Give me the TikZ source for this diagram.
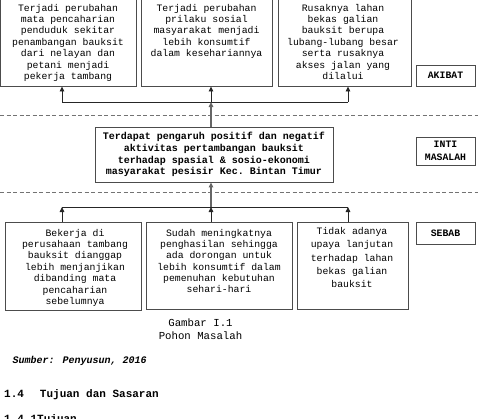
\documentclass[tikz,border=0pt]{standalone}
\usepackage{fontspec}
\setmainfont{Liberation Mono}
\usetikzlibrary{arrows.meta,fit}
\begin{document}
\begin{tikzpicture}[x=1pt,y=-1pt,
  box/.style={draw=black!70, line width=0.9pt, inner sep=0pt},
  txt/.style={align=center, inner sep=0pt, font=\fontsize{9.8}{#1}\selectfont,
    execute at begin node=\strut, execute at end node=\strut},
  txt/.default=11.4,
  boldtxt/.style={align=center, inner sep=0pt, font=\bfseries\fontsize{#1}{11.7}\selectfont,
    execute at begin node=\strut, execute at end node=\strut},
  boldtxt/.default=10,
  lbl/.style={align=center, inner sep=0pt, font=\bfseries\fontsize{9.8}{13}\selectfont},
  conn/.style={draw=black!85, line width=0.9pt},
  arr/.style={conn, -{Triangle[length=5pt,width=4.5pt]}},
  trunk/.style={draw=black!60, line width=1.4pt, -{Triangle[length=5pt,width=4.5pt,fill=black]}},
  sep/.style={draw=black!55, line width=1pt, dash pattern=on 4pt off 2.5pt}
]
\useasboundingbox (0,0) rectangle (478,418);

% ---------- AKIBAT (top) ----------
\node[box, fit={(0.5,-3) (136,86)}] (b1) {};
\node[box, fit={(141,-3) (272,86)}] (b2) {};
\node[box, fit={(278,-3) (411,86)}] (b3) {};
\node[txt] (tb1) at (68,43.5) {Terjadi perubahan\\mata pencaharian\\penduduk sekitar\\penambangan bauksit\\dari nelayan dan\\petani menjadi\\pekerja tambang};
\node[txt] (tb2) at (206.5,32) {Terjadi perubahan\\prilaku sosial\\masyarakat menjadi\\lebih konsumtif\\dalam kesehariannya};
\node[txt] (tb3) at (343,43.5) {Rusaknya lahan\\bekas galian\\bauksit berupa\\lubang-lubang besar\\serta rusaknya\\akses jalan yang\\dilalui};
\node[box, fit={(416,65) (475,86)}] (lakibat) {};
\node[lbl] (takibat) at (445.5,75) {AKIBAT};

% ---------- separators ----------
\coordinate (s1l) at (0,115);
\coordinate (s1r) at (478,115);
\coordinate (s2l) at (0,192);
\coordinate (s2r) at (478,192);
\draw[sep] (s1l) -- (s1r);
\draw[sep] (s2l) -- (s2r);

% ---------- INTI MASALAH ----------
\node[box, fit={(95,127) (333,182)}] (m) {};
\node[boldtxt] (tm) at (214,155.5) {Terdapat pengaruh positif dan negatif\\aktivitas pertambangan bauksit\\terhadap spasial \& sosio-ekonomi\\masyarakat pesisir Kec.\ Bintan Timur};
\node[box, fit={(416,137) (475,165)}] (linti) {};
\node[lbl] (tinti) at (445.5,150.5) {INTI\\MASALAH};

% ---------- SEBAB (bottom) ----------
\node[box, fit={(5,222) (141,310.5)}] (c1) {};
\node[box, fit={(146,222) (292,309.5)}] (c2) {};
\node[box, fit={(297,222) (408,309.5)}] (c3) {};
\node[txt] (tc1) at (75,268.5) {Bekerja di\\perusahaan tambang\\bauksit dianggap\\lebih menjanjikan\\dibanding mata\\pencaharian\\sebelumnya};
\node[txt=11.3] (tc2) at (219,262.7) {Sudah meningkatnya\\penghasilan sehingga\\ada dorongan untuk\\lebih konsumtif dalam\\pemenuhan kebutuhan\\sehari-hari};
\node[txt=13.2] (tc3) at (352,259.5) {Tidak adanya\\upaya lanjutan\\terhadap lahan\\bekas galian\\bauksit};
\node[box, fit={(416,222) (475,244)}] (lsebab) {};
\node[lbl] (tsebab) at (445.5,233.5) {SEBAB};

% ---------- connectors ----------
\coordinate (ja1) at (62,102);
\coordinate (ja2) at (211,102);
\coordinate (ja3) at (348,102);
\coordinate (jb1) at (62,207);
\coordinate (jb2) at (211,207);
\coordinate (jb3) at (348,207);

\draw[conn] (ja1) -- (ja3);
\draw[arr] (ja1) -- (ja1 |- b1.south);
\draw[arr] (ja2) -- (ja2 |- b2.south);
\draw[arr] (ja3) -- (ja3 |- b3.south);
\draw[trunk] (m.north -| ja2) -- (ja2);

\draw[conn] (jb1) -- (jb3);
\draw[trunk] (jb2) -- (m.south -| jb2);
\draw[arr] (c1.north -| jb1) -- (jb1);
\draw[arr] (c2.north -| jb2) -- (jb2);
\draw[arr] (c3.north -| jb3) -- (jb3);

% ---------- captions ----------
\node[inner sep=0pt, font=\fontsize{10.7}{12}\selectfont] (cap1) at (200.5,322.5) {Gambar I.1};
\node[inner sep=0pt, font=\fontsize{10.7}{12}\selectfont] (cap2) at (200.5,336) {Pohon Masalah};
\node[inner sep=0pt, anchor=west, font=\bfseries\itshape\fontsize{10}{12}\selectfont] (src) at (12.5,361) {Sumber: Penyusun, 2016};
\node[inner sep=0pt, anchor=base west, font=\bfseries\fontsize{11}{13}\selectfont] (h1) at (4,397.5) {1.4\hspace*{16pt}Tujuan dan Sasaran};
\node[inner sep=0pt, anchor=base west, font=\bfseries\fontsize{11}{13}\selectfont] (h2) at (4,422.5) {1.4.1Tujuan};
\end{tikzpicture}
\end{document}
